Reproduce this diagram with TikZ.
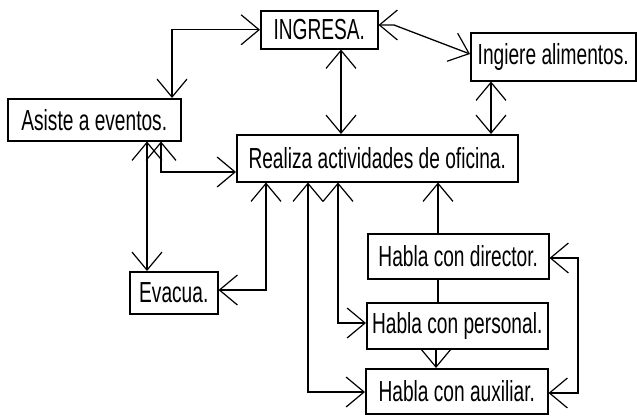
\documentclass[tikz,border=0pt]{standalone}
\usepackage{fontspec}
\usepackage{graphicx}
\setmainfont{Liberation Sans}
\usetikzlibrary{arrows.meta}
\newcommand{\narrowtxt}[1]{\scalebox{0.66}[1]{#1}}
\tikzset{
  box/.style={draw, line width=1.5pt, inner sep=2pt, font=\fontsize{29}{30}\selectfont, anchor=north west},
  barb/.tip={Straight Barb[length=18pt, width=30pt, line width=1.2pt]},
  conn/.style={line width=1.3pt},
  bothway/.style={conn, barb-barb},
  oneway/.style={conn, -barb},
}
\begin{document}
\begin{tikzpicture}[x=1pt,y=-1pt]
\useasboundingbox (0,0) rectangle (637,415);
% nodes (north west corner, width, height)
\node[box, minimum width=117pt, minimum height=38pt] (ingresa) at (260,10) {\narrowtxt{INGRESA.}};
\node[box, minimum width=165pt, minimum height=48pt] (ingiere) at (470,32) {\narrowtxt{Ingiere alimentos.}};
\node[box, minimum width=173pt, minimum height=42pt] (asiste) at (7,98) {\narrowtxt{Asiste a eventos.}};
\node[box, minimum width=281pt, minimum height=47pt] (realiza) at (236,134) {\narrowtxt{Realiza actividades de oficina.}};
\node[box, minimum width=88pt, minimum height=42pt] (evacua) at (129,271) {\narrowtxt{Evacua.}};
\node[box, minimum width=181pt, minimum height=45pt] (director) at (367,233) {\narrowtxt{Habla con director.}};
\node[box, minimum width=181pt, minimum height=46pt] (personal) at (366,302) {\narrowtxt{Habla con personal.}};
\node[box, minimum width=182pt, minimum height=45pt] (auxiliar) at (365,368) {\narrowtxt{Habla con auxiliar.}};
% connectors
\draw[bothway] (ingresa.west) -| (172,0 |- asiste.north);
\draw[bothway] (ingresa.east |- 0,25) -- (394,25) -- (ingiere.west |- 0,54);
\draw[bothway] (341,0 |- ingresa.south) -- (341,0 |- realiza.north);
\draw[bothway] (491,0 |- ingiere.south) -- (491,0 |- realiza.north);
\draw[bothway] (147,0 |- asiste.south) -- (147,0 |- evacua.north);
\draw[bothway] (161,0 |- asiste.south) |- (realiza.west |- 0,172);
\draw[bothway] (evacua.east |- 0,290) -| (266,0 |- realiza.south);
\draw[bothway] (308,0 |- realiza.south) |- (auxiliar.west |- 0,392);
\draw[bothway] (338,0 |- realiza.south) |- (personal.west |- 0,323);
\draw[oneway] (438,0 |- director.north) -- (438,0 |- realiza.south);
\draw[conn] (438,0 |- director.south) -- (438,0 |- personal.north);
\draw[oneway] (436,0 |- personal.south) -- (436,0 |- auxiliar.north);
\coordinate (rtop) at (578,258);
\coordinate (rbot) at (578,393);
\draw[bothway] (director.east |- rtop) -- (rtop) -- (rbot) -- (auxiliar.east |- rbot);
\end{tikzpicture}
\end{document}
